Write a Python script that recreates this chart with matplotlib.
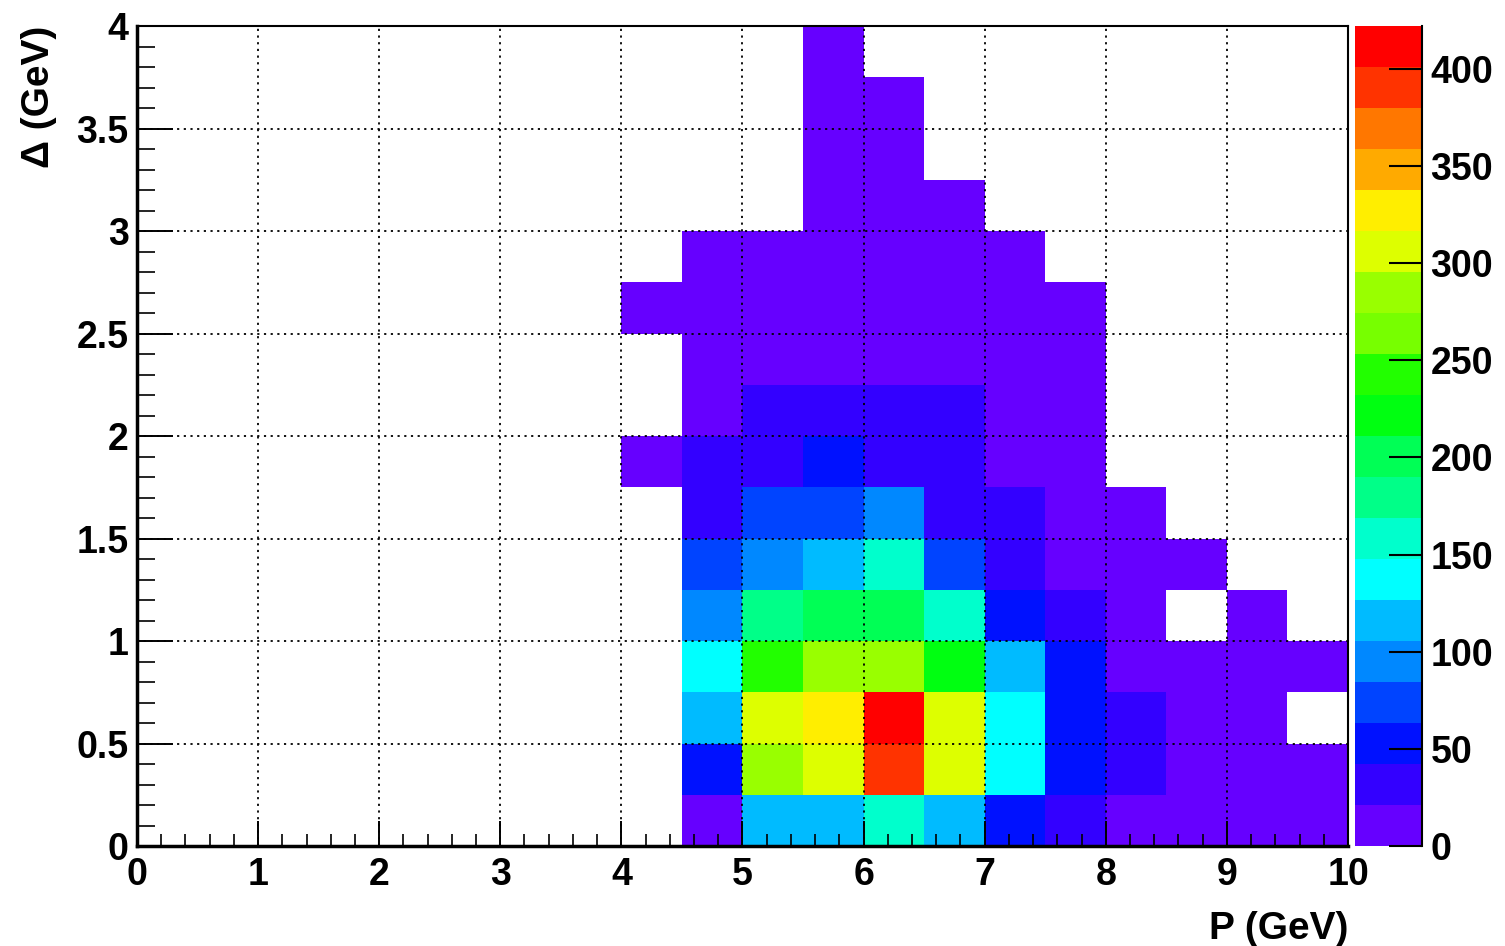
import numpy as np
import matplotlib
matplotlib.use("Agg")
import matplotlib.pyplot as plt
from matplotlib.colors import ListedColormap, BoundaryNorm

plt.rcParams['font.family'] = ['Liberation Sans', 'DejaVu Sans']
plt.rcParams['font.weight'] = 'bold'

# histogram binning: P in 0..10 GeV (20 bins), Delta in 0..4 GeV (16 bins)
p_lo, p_hi, p_bins = 0.0, 10.0, 20
d_lo, d_hi, d_bins = 0.0, 4.0, 16

# counts for P bins starting at 4.0 GeV (bins 4.0, 4.5, ..., 9.5); rows top (Delta=3.75) to bottom (Delta=0)
counts_from_p4 = [
    [0,   0,   0,   8,   0,   0,   0,  0,  0,  0,  0, 0],
    [0,   0,   0,   9,   6,   0,   0,  0,  0,  0,  0, 0],
    [0,   0,   0,  12,  10,   0,   0,  0,  0,  0,  0, 0],
    [0,   0,   0,  14,  12,   7,   0,  0,  0,  0,  0, 0],
    [0,   5,  13,  16,  18,  15,   9,  0,  0,  0,  0, 0],
    [4,  11,  17,  19,  18,  16,  12,  6,  0,  0,  0, 0],
    [0,  15,  19,  20,  20,  18,  14,  8,  0,  0,  0, 0],
    [0,  18,  30,  34,  33,  28,  17, 11,  0,  0,  0, 0],
    [5,  25,  38,  45,  36,  31,  19, 13,  0,  0,  0, 0],
    [0,  30,  70,  76,  92,  38,  27, 16,  7,  0,  0, 0],
    [0,  72,  96, 118, 160,  74,  33, 18,  9,  4,  0, 0],
    [0,  94, 180, 200, 205, 158,  52, 28, 14,  0,  5, 0],
    [0, 138, 240, 290, 286, 222, 112, 50, 17, 12,  8, 5],
    [0, 116, 305, 330, 420, 310, 140, 55, 30, 15,  9, 0],
    [0,  50, 288, 310, 395, 312, 142, 56, 31, 14, 10, 6],
    [0,  12, 115, 118, 160, 112,  54, 30, 16, 11,  8, 6],
]
z_max = 422

# ROOT-like rainbow palette with 20 contour levels
palette = ['#6600ff', '#3300ff', '#0011ff', '#0044ff', '#0088ff',
           '#00bbff', '#00ffff', '#00ffcc', '#00ff88', '#00ff55',
           '#00ff11', '#22ff00', '#77ff00', '#99ff00', '#ddff00',
           '#ffee00', '#ffaa00', '#ff7700', '#ff3300', '#ff0000']

x_edges = np.linspace(p_lo, p_hi, p_bins + 1)
y_edges = np.linspace(d_lo, d_hi, d_bins + 1)
counts = np.zeros((d_bins, p_bins))
counts[:, 8:] = np.array(counts_from_p4)[::-1]
z = np.ma.masked_where(counts <= 0, counts)

cmap = ListedColormap(palette)
cmap.set_bad('white')
norm = BoundaryNorm(np.linspace(0, z_max, len(palette) + 1), cmap.N)

fig = plt.figure(figsize=(15.05, 9.46), dpi=100)
ax = fig.add_axes([0.091, 0.1057, 0.8047, 0.8668])
cax = fig.add_axes([0.9003, 0.1057, 0.0446, 0.8668])

mesh = ax.pcolormesh(x_edges, y_edges, z, cmap=cmap, norm=norm, zorder=1)
ax.set_xlim(p_lo, p_hi)
ax.set_ylim(d_lo, d_hi)

ax.set_xticks(np.arange(0, 11, 1))
ax.set_xticks(np.arange(0, 10.01, 0.2), minor=True)
ax.set_yticks(np.arange(0, 4.01, 0.5))
ax.set_yticks(np.arange(0, 4.01, 0.1), minor=True)
ax.set_yticklabels(['0', '0.5', '1', '1.5', '2', '2.5', '3', '3.5', '4'])
ax.grid(True, which='major', color='black', linestyle=(0, (1.2, 2.5)), linewidth=1.3, zorder=3)
ax.set_axisbelow(False)

ax.tick_params(axis='x', which='major', direction='in', length=18, width=1.4,
               labelsize=27, pad=8, top=False)
ax.tick_params(axis='x', which='minor', direction='in', length=9, width=1.2, top=False)
ax.tick_params(axis='y', which='major', direction='in', length=26, width=1.4,
               labelsize=27, pad=6, right=False)
ax.tick_params(axis='y', which='minor', direction='in', length=13, width=1.2, right=False)
for s in ax.spines.values():
    s.set_linewidth(1.5)
    s.set_zorder(5)
ax.spines['left'].set_linewidth(2.5)
ax.spines['bottom'].set_linewidth(2.5)

ax.set_xlabel('P (GeV)', fontsize=28, fontweight='bold', loc='right', labelpad=13)
ax.set_ylabel('Δ (GeV)', fontsize=28, fontweight='bold', loc='top', labelpad=14)

# palette axis
cb = fig.colorbar(mesh, cax=cax, ticks=np.arange(0, 401, 50))
cb.outline.set_visible(False)
cax.spines['right'].set_visible(True)
cax.spines['right'].set_linewidth(1.5)
cax.yaxis.set_ticks_position('right')
cax.tick_params(axis='y', which='major', direction='in', length=24, width=1.5,
                labelsize=27, pad=6)
cax.minorticks_off()

fig.savefig('out.png', dpi=100)
